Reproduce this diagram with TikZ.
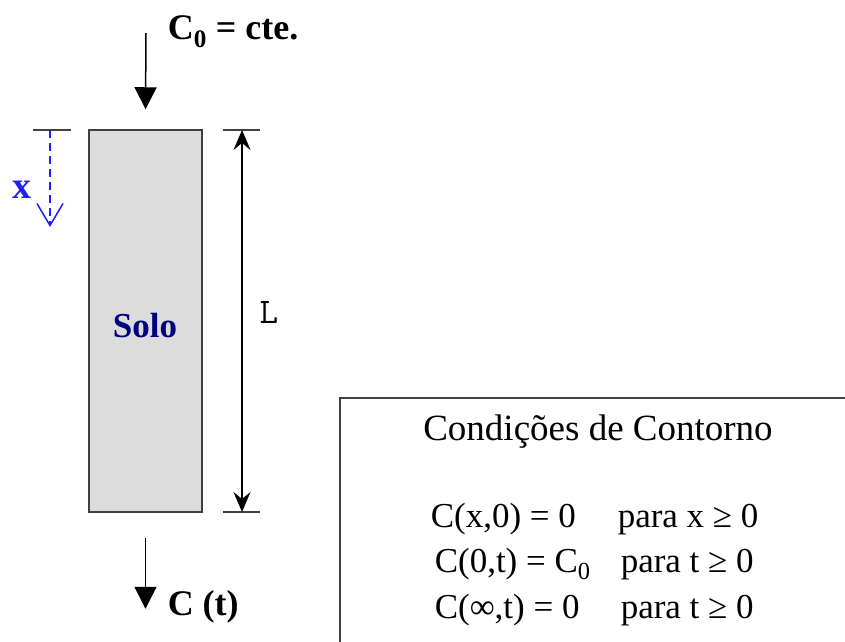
\documentclass[tikz,border=0pt]{standalone}
\usepackage{fontspec}
\setmainfont{Liberation Serif}
\usetikzlibrary{arrows.meta,positioning}
\definecolor{cinzasolo}{HTML}{DCDCDC}
\definecolor{bordasolo}{HTML}{404040}
\definecolor{azulx}{HTML}{1E1EFF}
\definecolor{azulsolo}{HTML}{000080}
\begin{document}
\begin{tikzpicture}[x=1pt, y=-1pt, line width=1.5pt,
    seta/.style={-{Triangle[length=22pt,width=22pt]}},
    cota/.style={{Stealth[length=20pt,width=17pt,inset=7pt]}-{Stealth[length=20pt,width=17pt,inset=7pt]}},
    texto/.style={inner sep=0pt, font=\fontsize{35}{40}\selectfont},
    negrito/.style={inner sep=0pt, font=\fontsize{36}{40}\selectfont\bfseries}]
    \clip (0,0) rectangle (845,641);
    % Coluna de solo
    \node[draw=bordasolo, fill=cinzasolo, minimum width=113pt, minimum height=382pt] (solo) at (145.5,321) {};
    \node[inner sep=0pt, text=azulsolo, font=\fontsize{35}{40}\selectfont\bfseries] (solotxt) at (145,326) {Solo};
    % Entrada
    \coordinate (topo) at (146,33);
    \draw[seta] (topo) -- ([yshift=20pt]solo.north);
    \node[negrito, anchor=base west] (czero) at (167,39) {C\textsubscript{0} = cte.};
    % Saida
    \coordinate (base) at ([yshift=-25pt]solo.south);
    \draw[seta] (base) -- ++(0,71);
    \node[negrito, anchor=base west] (ct) at (167,615) {C (t)};
    % Eixo x
    \draw[bordasolo] (33,130) -- (71,130);
    \coordinate (xini) at (50,130);
    \coordinate (xfim) at (50,227);
    \draw[azulx, dash pattern=on 8pt off 5pt, -{Straight Barb[length=22pt,width=26pt]}] (xini) -- (xfim);
    \node[inner sep=0pt, text=azulx, font=\fontsize{38}{40}\selectfont\bfseries] (xlabel) at (22,190) {x};
    % Cota L
    \draw[bordasolo] (223,130) -- (260,130);
    \draw[bordasolo] (223,512) -- (260,512);
    \coordinate (ltopo) at (242,130);
    \coordinate (lbase) at (242,512);
    \draw[cota] (ltopo) -- (lbase);
    \node[inner sep=0pt, font=\fontsize{36}{36}\ttfamily] (ltxt) at (269,312) {L};
    % Condicoes de contorno
    \draw[bordasolo] (340,398) rectangle (870,670);
    \node[texto, anchor=base, font=\fontsize{37}{40}\selectfont] (titulo) at (598,440) {Condições de Contorno};
    \node[texto, anchor=base west] (ca) at (430,527) {C(x,0) = 0};
    \node[texto, anchor=base west] (cb) at (434,572) {C(0,t) = C\textsubscript{0}};
    \node[texto, anchor=base west] (cc) at (434,618) {C(∞,t) = 0};
    \node[texto, anchor=base west] (pa) at (617,527) {para x ≥ 0};
    \node[texto, anchor=base west] (pb) at (620,572) {para t ≥ 0};
    \node[texto, anchor=base west] (pc) at (620,618) {para t ≥ 0};
\end{tikzpicture}
\end{document}
